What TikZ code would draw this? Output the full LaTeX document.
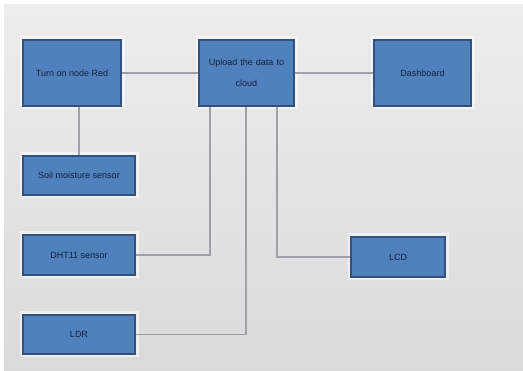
\documentclass[tikz,border=0pt]{standalone}
\usepackage{fontspec}
\setmainfont{Liberation Sans}
\definecolor{boxfill}{RGB}{79,129,189}
\definecolor{boxline}{RGB}{50,82,125}
\definecolor{wire}{RGB}{160,160,166}
\definecolor{txt}{RGB}{20,32,60}
\definecolor{bgtop}{RGB}{237,237,237}
\definecolor{bgbot}{RGB}{218,218,218}
\begin{document}
\begin{tikzpicture}[x=1pt,y=-1pt,
  blk/.style={draw=boxline,line width=1.3pt,fill=boxfill,text=txt,font=\fontsize{9}{11}\selectfont,align=center,inner sep=0pt},
  halo/.style={draw=white,line width=3pt,opacity=0.5},
  wirestyle/.style={draw=wire,line width=1.3pt}]
\useasboundingbox (0,0) rectangle (523,371);
\fill[white] (0,0) rectangle (523,371);
\shade[top color=bgtop,bottom color=bgbot] (4,5) rectangle (523,371);
% halos
\foreach \a/\b/\c/\d in {23/40/121/106, 199/40/294/106, 374/40/471/106, 23/156/135/195, 23/235/135/275, 23/315/135/354, 351/237/445/277}
  \draw[halo] (\a-2,\b-2) rectangle (\c+2,\d+2);
\node[blk,minimum width=98pt,minimum height=66pt] (turn) at (72,73) {Turn on node Red};
\node[blk,minimum width=95pt,minimum height=66pt,text width=90pt] (upload) at (246.5,73) {Upload the data to\\[10pt]cloud};
\node[blk,minimum width=97pt,minimum height=66pt] (dash) at (422.5,73) {Dashboard};
\node[blk,minimum width=112pt,minimum height=39pt] (soil) at (79,175.5) {Soil moisture sensor};
\node[blk,minimum width=112pt,minimum height=40pt] (dht) at (79,255) {DHT11 sensor};
\node[blk,minimum width=112pt,minimum height=39pt] (ldr) at (79,334.5) {LDR};
\node[blk,minimum width=94pt,minimum height=40pt] (lcd) at (398,257) {LCD};
\draw[wirestyle] (turn.east) -- (upload.west);
\draw[wirestyle] (upload.east) -- (dash.west);
\draw[wirestyle] (turn.south -| 79,0) -- (soil.north);
\draw[wirestyle] (dht.east) -| (upload.south -| 210,0);
\draw[wirestyle] (ldr.east) -| (upload.south -| 246,0);
\draw[wirestyle] (lcd.west) -| (upload.south -| 277,0);
\end{tikzpicture}
\end{document}
